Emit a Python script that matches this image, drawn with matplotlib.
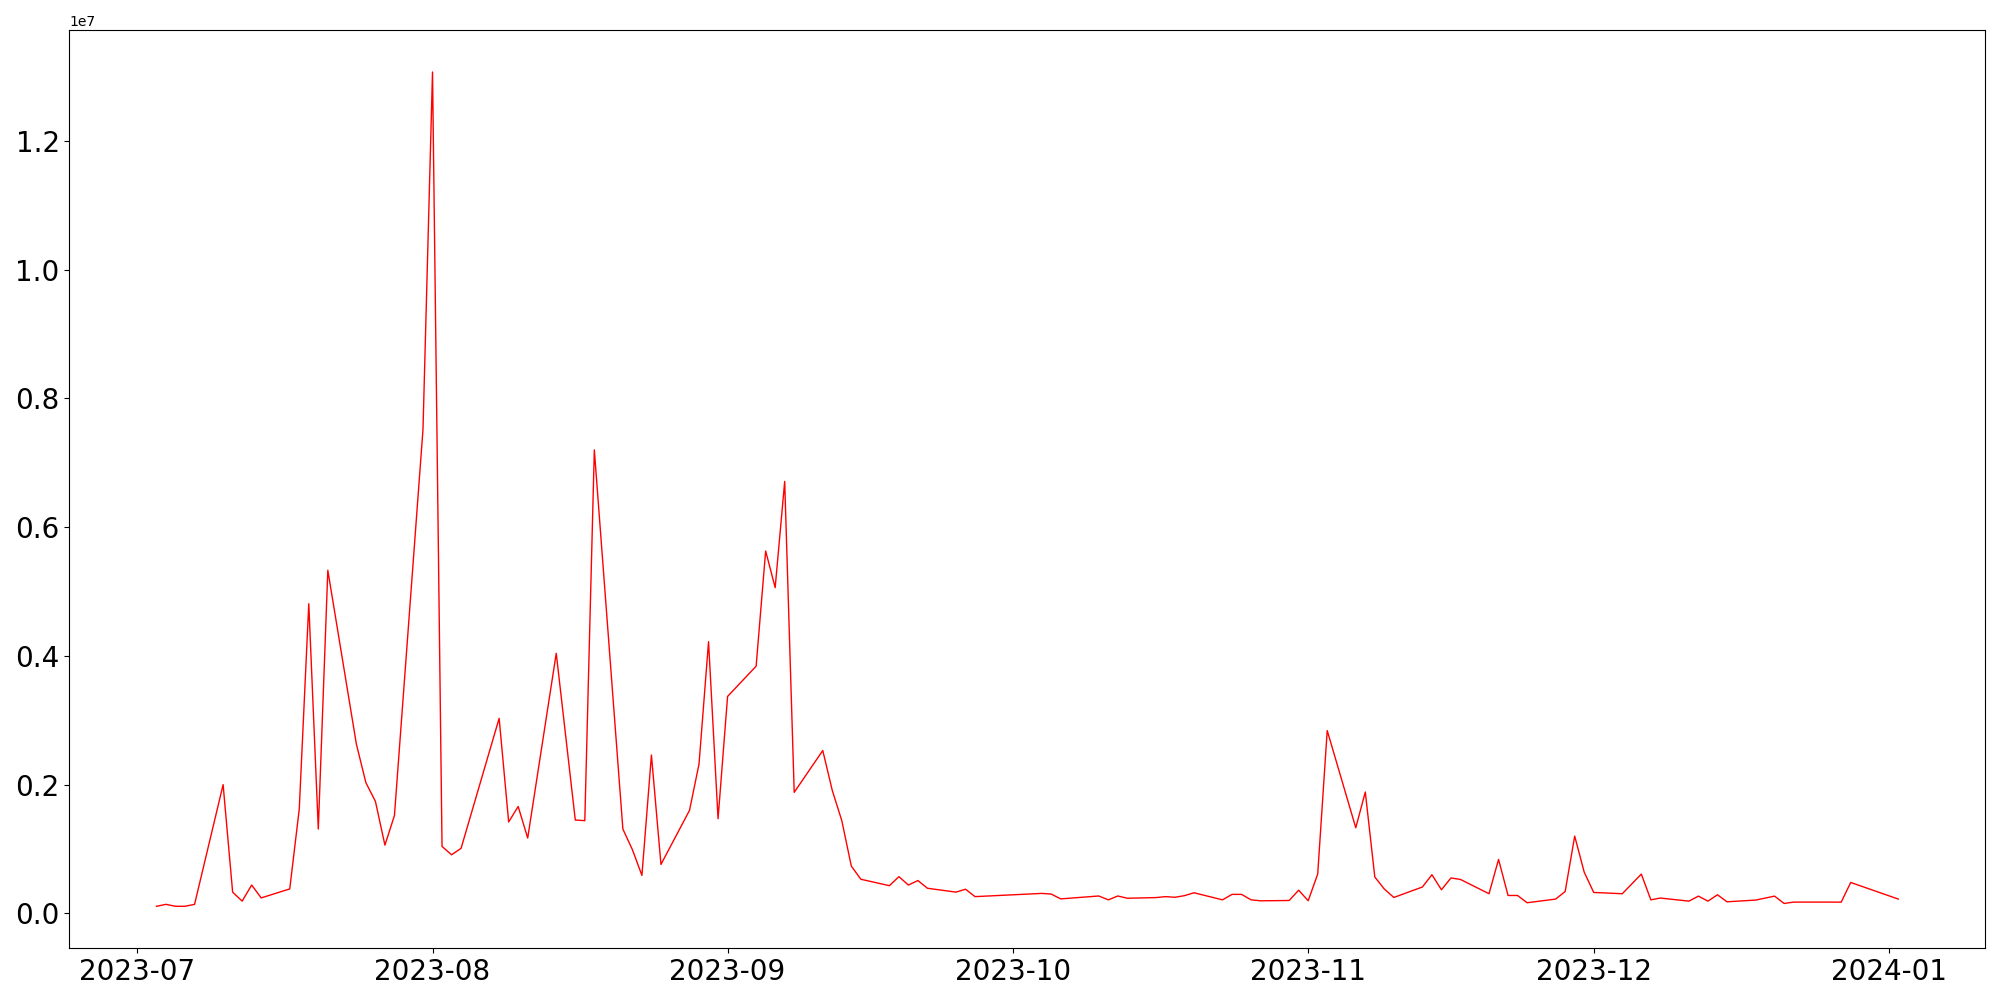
import numpy as np
import pandas as pd
import matplotlib
import matplotlib.pyplot as plt

matplotlib.use("Agg")

# trading days (KRX calendar, some days missing)
dates = [
    "2023-07-03", "2023-07-04", "2023-07-05", "2023-07-06", "2023-07-07",
    "2023-07-10", "2023-07-11", "2023-07-12", "2023-07-13", "2023-07-14",
    "2023-07-17", "2023-07-18", "2023-07-19", "2023-07-20", "2023-07-21",
    "2023-07-24", "2023-07-25", "2023-07-26", "2023-07-27", "2023-07-28",
    "2023-07-31", "2023-08-01", "2023-08-02", "2023-08-03", "2023-08-04",
    "2023-08-08", "2023-08-09", "2023-08-10", "2023-08-11",
    "2023-08-14", "2023-08-16", "2023-08-17", "2023-08-18",
    "2023-08-21", "2023-08-22", "2023-08-23", "2023-08-24", "2023-08-25",
    "2023-08-28", "2023-08-29", "2023-08-30", "2023-08-31", "2023-09-01",
    "2023-09-04", "2023-09-05", "2023-09-06", "2023-09-07", "2023-09-08",
    "2023-09-11", "2023-09-12", "2023-09-13", "2023-09-14", "2023-09-15",
    "2023-09-18", "2023-09-19", "2023-09-20", "2023-09-21", "2023-09-22",
    "2023-09-25", "2023-09-26", "2023-09-27",
    "2023-10-04", "2023-10-05", "2023-10-06",
    "2023-10-10", "2023-10-11", "2023-10-12", "2023-10-13",
    "2023-10-16", "2023-10-17", "2023-10-18", "2023-10-19", "2023-10-20",
    "2023-10-23", "2023-10-24", "2023-10-25", "2023-10-26", "2023-10-27",
    "2023-10-30", "2023-10-31", "2023-11-01", "2023-11-02", "2023-11-03",
    "2023-11-06", "2023-11-07", "2023-11-08", "2023-11-09", "2023-11-10",
    "2023-11-13", "2023-11-14", "2023-11-15", "2023-11-16", "2023-11-17",
    "2023-11-20", "2023-11-21", "2023-11-22", "2023-11-23", "2023-11-24",
    "2023-11-27", "2023-11-28", "2023-11-29", "2023-11-30", "2023-12-01",
    "2023-12-04", "2023-12-06", "2023-12-07", "2023-12-08",
    "2023-12-11", "2023-12-12", "2023-12-13", "2023-12-14", "2023-12-15",
    "2023-12-18", "2023-12-20", "2023-12-21", "2023-12-22",
    "2023-12-26", "2023-12-27", "2023-12-28", "2024-01-02",
]

volume = [
    110000, 140000, 110000, 110000, 140000,
    2000000, 330000, 190000, 440000, 240000,
    380000, 1620000, 4810000, 1310000, 5330000,
    2630000, 2030000, 1740000, 1060000, 1520000,
    7520000, 13070000, 1040000, 910000, 1010000,
    3030000, 1420000, 1660000, 1170000,
    4040000, 1450000, 1440000, 7200000,
    1310000, 990000, 590000, 2460000, 760000,
    1600000, 2320000, 4220000, 1470000, 3370000,
    3840000, 5630000, 5060000, 6710000, 1880000,
    2530000, 1910000, 1440000, 735000, 530000,
    430000, 570000, 440000, 510000, 390000,
    330000, 375000, 260000,
    310000, 300000, 225000,
    270000, 210000, 270000, 235000,
    245000, 260000, 250000, 275000, 320000,
    210000, 295000, 295000, 210000, 195000,
    200000, 360000, 196000, 610000, 2840000,
    1330000, 1885000, 565000, 378000, 247000,
    410000, 600000, 367000, 550000, 527000,
    305000, 838000, 278000, 278000, 165000,
    222000, 340000, 1200000, 640000, 325000,
    305000, 610000, 210000, 238000,
    190000, 268000, 190000, 289000, 180000,
    206000, 268000, 154000, 175000,
    175000, 174000, 480000, 222000,
]

df = pd.DataFrame({"date": pd.to_datetime(dates), "volume": volume})

fig = plt.figure(figsize=(20, 10), dpi=100)
ax = fig.add_subplot(1, 1, 1)
fig.subplots_adjust(left=0.0347, right=0.9927, bottom=0.052, top=0.9697)

ax.plot(df["date"], df["volume"], c="r", linewidth=1)

ax.tick_params(axis="both", labelsize=20)

plt.savefig("out.png", dpi=100)
plt.close()
